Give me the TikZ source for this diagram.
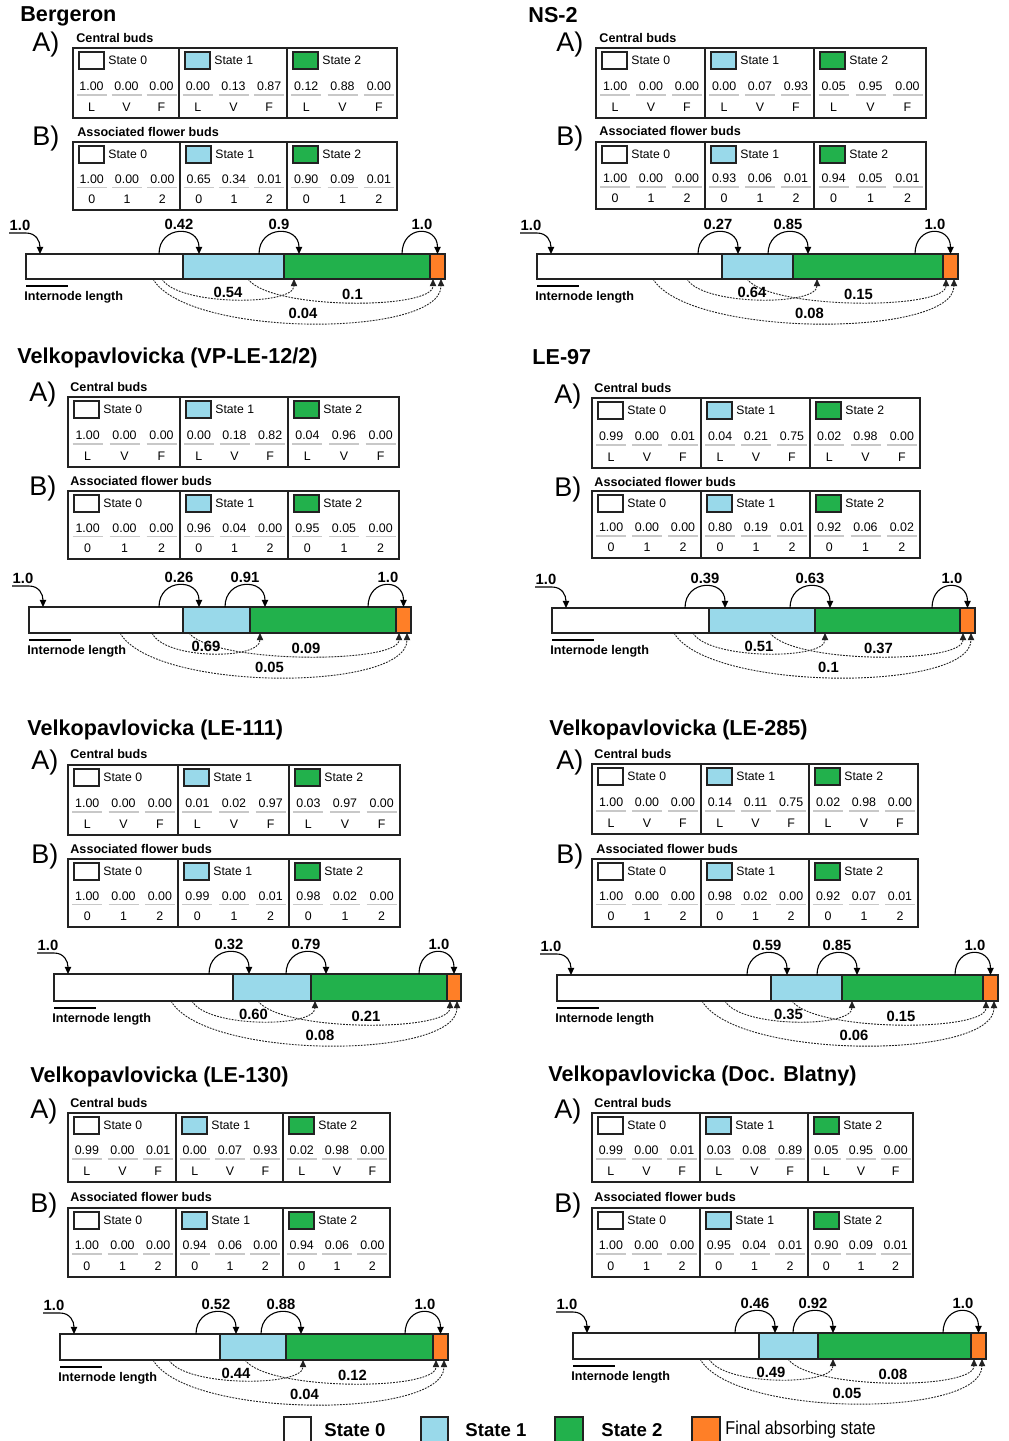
\documentclass[tikz,border=0pt]{standalone}
\usepackage{fontspec}
\setmainfont{Liberation Sans}
\usepackage{graphicx}
\usetikzlibrary{arrows.meta}
\definecolor{sblue}{HTML}{99D9EA}
\definecolor{sgreen}{HTML}{22B14C}
\definecolor{sorange}{HTML}{FF7F27}
\definecolor{gl}{HTML}{C8C8C8}
\definecolor{dk}{HTML}{222222}
\tikzset{
 budtab/.style={draw=dk, line width=0.9pt},
 swatch/.style={draw=dk, line width=0.6pt},
 gline/.style={draw=gl, line width=0.8pt},
 ttl/.style={font=\bfseries\fontsize{10.8}{13}\selectfont, anchor=west, inner sep=0pt},
 ablab/.style={font=\fontsize{13.5}{16}\selectfont, anchor=west, inner sep=0pt},
 hd/.style={font=\bfseries\fontsize{6.3}{8}\selectfont, anchor=west, inner sep=0pt},
 stl/.style={font=\fontsize{6.1}{7}\selectfont, anchor=west, inner sep=0pt},
 val/.style={font=\fontsize{6.2}{7}\selectfont, inner sep=0pt},
 blab/.style={font=\bfseries\fontsize{7.4}{9}\selectfont, inner sep=0pt},
 inl/.style={font=\bfseries\fontsize{6.3}{8}\selectfont, anchor=west, inner sep=0pt},
 barb/.style={draw=dk, line width=0.8pt},
 looparr/.style={draw=black, line width=0.55pt, -{Triangle[length=3.6pt,width=3.2pt]}},
 dotarr/.style={draw=dk, line width=0.45pt, dash pattern=on 0.9pt off 0.6pt, -{Triangle[length=3.6pt,width=3.2pt]}},
 leg/.style={font=\bfseries\fontsize{9.3}{11}\selectfont, anchor=west, inner sep=0pt},
}
\def\parsevals#1/#2/#3/#4/#5/#6/#7/#8/#9\relax{\def\tvA{#1}\def\tvB{#2}\def\tvC{#3}\def\tvD{#4}\def\tvE{#5}\def\tvF{#6}\def\tvG{#7}\def\tvH{#8}\def\tvI{#9}}
\def\parsebar#1/#2/#3/#4\relax{\def\bSa{#1}\def\bSb{#2}\def\bSc{#3}\def\bTa{#4}}
\def\parselabs#1/#2/#3/#4/#5\relax{\def\bLa{#1}\def\bLb{#2}\def\bLc{#3}\def\bLd{#4}\def\bLe{#5}}
\newcommand\budcol[9]{%
  \pgfmathsetmacro\cw{#2-#1}%
  \pgfmathsetmacro\rv{#3+0.545*(#4-#3)}%
  \pgfmathsetmacro\rl{#3+0.67*(#4-#3)}%
  \pgfmathsetmacro\rb{#3+0.84*(#4-#3)}%
  \draw[swatch, fill=#6] (#1+6,#3+4) rectangle (#1+31,#3+21);
  \node[stl] at (#1+35,#3+12) {State #5};
  \foreach \f/\v/\l in {0.175/#7/\LA, 0.505/#8/\LB, 0.835/#9/\LC}{
    \node[val] at ({#1+\f*\cw},\rv) {\v};
    \draw[gline] ({#1+\f*\cw-15},\rl) -- ({#1+\f*\cw+15},\rl);
    \node[val] at ({#1+\f*\cw},\rb) {\l};
  }
}
\newcommand\budtable[7]{%
  \parsevals#7\relax
  \budcol{#1}{#5}{#2}{#4}{0}{white}{\tvA}{\tvB}{\tvC}
  \budcol{#5}{#6}{#2}{#4}{1}{sblue}{\tvD}{\tvE}{\tvF}
  \budcol{#6}{#3}{#2}{#4}{2}{sgreen}{\tvG}{\tvH}{\tvI}
  \draw[budtab] (#1,#2) rectangle (#3,#4) (#5,#2) -- (#5,#4) (#6,#2) -- (#6,#4);
}
\newcommand\statebar[9]{%
  \parsebar#8\relax
  \parselabs#9\relax
  \draw[barb, fill=white] (#3,#1) rectangle (#4,#2);
  \draw[barb, fill=sblue] (#4,#1) rectangle (#5,#2);
  \draw[barb, fill=sgreen] (#5,#1) rectangle (#6,#2);
  \draw[barb, fill=sorange] (#6,#1) rectangle (#7,#2);
  \draw[looparr] (#3-17,#1-21) -- (#3,#1-21) .. controls (#3+10,#1-21) and (#3+14,#1-13) .. (#3+14,#1);
  \node[blab] at (#3-6,#1-29) {1.0};
  \draw[looparr] (#4-24,#1) .. controls (#4-24,#1-29) and (#4+16,#1-29) .. (#4+16,#1);
  \node[blab] at (#4-4,#1-30) {\bLa};
  \draw[looparr] (#5-25,#1) .. controls (#5-25,#1-29) and (#5+15,#1-29) .. (#5+15,#1);
  \node[blab] at (#5-5,#1-30) {\bLb};
  \pgfmathsetmacro\tipO{(#6+#7)/2}%
  \draw[looparr] (#6-28,#1) .. controls (#6-28,#1-29) and (\tipO,#1-29) .. (\tipO,#1);
  \node[blab] at (#6-8,#1-30) {1.0};
  \draw[line width=0.6pt] (#3,#2+7) -- (#3+42,#2+7);
  \node[inl] at (#3-2,#2+18) {Internode length};
  \pgfmathsetmacro\tipB{#6+3}%
  \pgfmathsetmacro\tipC{#7-4}%
  \draw[dotarr] (\bSa,#2) .. controls ({\bSa+0.12*(\bTa-\bSa)},#2+27) and (\bTa,#2+27) .. (\bTa,#2);
  \draw[dotarr] (\bSb,#2) .. controls ({\bSb+0.12*(\tipB-\bSb)},#2+31) and (\tipB,#2+31) .. (\tipB,#2);
  \draw[dotarr] (\bSc,#2) .. controls ({\bSc+0.12*(\tipC-\bSc)},#2+59) and (\tipC,#2+59) .. (\tipC,#2);
  \node[blab] at ({(\bSa+\bTa)/2},#2+13) {\bLc};
  \node[blab] at ({(\bSb+\tipB)/2+12},#2+15) {\bLd};
  \node[blab] at ({(\bSc+\tipC)/2+6},#2+34) {\bLe};
}
\begin{document}
\begin{tikzpicture}[x=0.5pt,y=-0.5pt]
\useasboundingbox[fill=white] (0,0) rectangle (1008,1441);
% ---------- Panel 1: Bergeron
\node[ttl] (t1) at (20,16) {Bergeron};
\node[ablab] at (32,45) {A)};
\node[hd] at (76,38) {Central buds};
\def\LA{L}\def\LB{V}\def\LC{F}
\budtable{73}{48}{397}{118}{179}{287}{1.00/0.00/0.00/0.00/0.13/0.87/0.12/0.88/0.00}
\node[ablab] at (32,139) {B)};
\node[hd] at (77,132) {Associated flower buds};
\def\LA{0}\def\LB{1}\def\LC{2}
\budtable{73}{142}{397}{210}{180}{287}{1.00/0.00/0.00/0.65/0.34/0.01/0.90/0.09/0.01}
\statebar{254}{279}{26}{183}{284}{430}{445}{162/248/153/294}{0.42/0.9/0.54/0.1/0.04}
% ---------- Panel 2: NS-2
\node[ttl] (t2) at (528,15) {NS-2};
\node[ablab] at (556,45) {A)};
\node[hd] at (599,38) {Central buds};
\def\LA{L}\def\LB{V}\def\LC{F}
\budtable{596}{48}{926}{118}{705}{814}{1.00/0.00/0.00/0.00/0.07/0.93/0.05/0.95/0.00}
\node[ablab] at (556,139) {B)};
\node[hd] at (599,131) {Associated flower buds};
\def\LA{0}\def\LB{1}\def\LC{2}
\budtable{596}{142}{926}{209}{705}{814}{1.00/0.00/0.00/0.93/0.06/0.01/0.94/0.05/0.01}
\statebar{254}{279}{537}{722}{793}{943}{958}{687/747/653/817}{0.27/0.85/0.64/0.15/0.08}
% ---------- Panel 3: VP-LE-12/2
\node[ttl] (t3) at (17,358) {Velkopavlovicka (VP-LE-12/2)};
\node[ablab] at (29,395) {A)};
\node[hd] at (70,387) {Central buds};
\def\LA{L}\def\LB{V}\def\LC{F}
\budtable{68}{397}{399}{467}{180}{288}{1.00/0.00/0.00/0.00/0.18/0.82/0.04/0.96/0.00}
\node[ablab] at (29,489) {B)};
\node[hd] at (70,481) {Associated flower buds};
\def\LA{0}\def\LB{1}\def\LC{2}
\budtable{68}{491}{399}{559}{180}{288}{1.00/0.00/0.00/0.96/0.04/0.00/0.95/0.05/0.00}
\statebar{607}{633}{29}{183}{250}{396}{411}{152/189/120/260}{0.26/0.91/0.69/0.09/0.05}
% ---------- Panel 4: LE-97
\node[ttl] (t4) at (532,357) {LE-97};
\node[ablab] at (554,397) {A)};
\node[hd] at (594,388) {Central buds};
\def\LA{L}\def\LB{V}\def\LC{F}
\budtable{592}{398}{920}{468}{701}{810}{0.99/0.00/0.01/0.04/0.21/0.75/0.02/0.98/0.00}
\node[ablab] at (554,490) {B)};
\node[hd] at (594,482) {Associated flower buds};
\def\LA{0}\def\LB{1}\def\LC{2}
\budtable{592}{491}{920}{558}{701}{810}{1.00/0.00/0.00/0.80/0.19/0.01/0.92/0.06/0.02}
\statebar{608}{633}{552}{709}{815}{960}{975}{693/770/674/825}{0.39/0.63/0.51/0.37/0.1}
% ---------- Panel 5: LE-111
\node[ttl] (t5) at (27,730) {Velkopavlovicka (LE-111)};
\node[ablab] at (31,763) {A)};
\node[hd] at (70,754) {Central buds};
\def\LA{L}\def\LB{V}\def\LC{F}
\budtable{68}{765}{400}{835}{178}{289}{1.00/0.00/0.00/0.01/0.02/0.97/0.03/0.97/0.00}
\node[ablab] at (31,857) {B)};
\node[hd] at (70,849) {Associated flower buds};
\def\LA{0}\def\LB{1}\def\LC{2}
\budtable{68}{859}{400}{927}{178}{289}{1.00/0.00/0.00/0.99/0.00/0.01/0.98/0.02/0.00}
\statebar{974}{1001}{54}{233}{311}{447}{461}{192/258/171/315}{0.32/0.79/0.60/0.21/0.08}
% ---------- Panel 6: LE-285
\node[ttl] (t6) at (549,730) {Velkopavlovicka (LE-285)};
\node[ablab] at (556,763) {A)};
\node[hd] at (594,754) {Central buds};
\def\LA{L}\def\LB{V}\def\LC{F}
\budtable{592}{764}{918}{834}{701}{809}{1.00/0.00/0.00/0.14/0.11/0.75/0.02/0.98/0.00}
\node[ablab] at (556,857) {B)};
\node[hd] at (596,849) {Associated flower buds};
\def\LA{0}\def\LB{1}\def\LC{2}
\budtable{592}{859}{918}{927}{701}{809}{1.00/0.00/0.00/0.98/0.02/0.00/0.92/0.07/0.01}
\statebar{975}{1001}{557}{771}{842}{983}{998}{725/792/702/852}{0.59/0.85/0.35/0.15/0.06}
% ---------- Panel 7: LE-130
\node[ttl] (t7) at (30,1077) {Velkopavlovicka (LE-130)};
\node[ablab] at (30,1111) {A)};
\node[hd] at (70,1103) {Central buds};
\def\LA{L}\def\LB{V}\def\LC{F}
\budtable{68}{1113}{390}{1182}{176}{283}{0.99/0.00/0.01/0.00/0.07/0.93/0.02/0.98/0.00}
\node[ablab] at (30,1205) {B)};
\node[hd] at (70,1197) {Associated flower buds};
\def\LA{0}\def\LB{1}\def\LC{2}
\budtable{68}{1208}{390}{1277}{176}{283}{1.00/0.00/0.00/0.94/0.06/0.00/0.94/0.06/0.00}
\statebar{1334}{1360}{60}{220}{286}{433}{448}{169/245/153/303}{0.52/0.88/0.44/0.12/0.04}
% ---------- Panel 8: Doc. Blatny
\node[ttl] (t8) at (548,1076) {Velkopavlovicka (Doc. Blatny)};
\node[ablab] at (554,1111) {A)};
\node[hd] at (594,1103) {Central buds};
\def\LA{L}\def\LB{V}\def\LC{F}
\budtable{592}{1113}{913}{1182}{700}{808}{0.99/0.00/0.01/0.03/0.08/0.89/0.05/0.95/0.00}
\node[ablab] at (554,1205) {B)};
\node[hd] at (594,1197) {Associated flower buds};
\def\LA{0}\def\LB{1}\def\LC{2}
\budtable{592}{1208}{913}{1277}{700}{808}{1.00/0.00/0.00/0.95/0.04/0.01/0.90/0.09/0.01}
\statebar{1333}{1359}{573}{759}{818}{971}{986}{709/788/700/833}{0.46/0.92/0.49/0.08/0.05}
% ---------- Legend
\draw[swatch, line width=0.8pt, fill=white] (284,1417) rectangle (311,1442);
\node[leg] (l0) at (324,1430) {State 0};
\draw[swatch, line width=0.8pt, fill=sblue] (421,1417) rectangle (448,1442);
\node[leg] (l1) at (465,1430) {State 1};
\draw[swatch, line width=0.8pt, fill=sgreen] (555,1417) rectangle (583,1442);
\node[leg] (l2) at (601,1430) {State 2};
\draw[swatch, line width=0.8pt, fill=sorange] (692,1417) rectangle (720,1442);
\node[anchor=west, inner sep=0pt, font=\fontsize{9.3}{11}\selectfont] (l3) at (725,1430) {\scalebox{0.87}[1]{Final absorbing state}};
\end{tikzpicture}
\end{document}
